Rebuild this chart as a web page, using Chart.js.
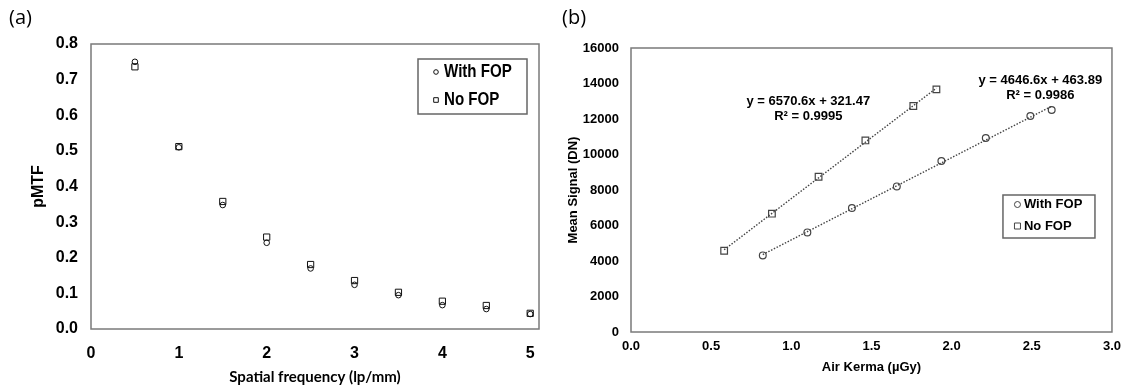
<!DOCTYPE html>
<html>
<head>
<meta charset="utf-8">
<script src="https://cdn.jsdelivr.net/npm/chart.js@4.4.1/dist/chart.umd.min.js"></script>
<style>
  body { margin: 0; background: #fff; width: 1128px; height: 391px; position: relative; overflow: hidden; }
  canvas { position: absolute; top: 0; }
  #cA { left: 0; }
  #cB { left: 560px; }
  .tag { position: absolute; top: 3px; font: 20px "Open Sans", sans-serif; line-height: 28px; color: #000; }
</style>
</head>
<body>
<canvas id="cA" width="560" height="391"></canvas>
<canvas id="cB" width="568" height="391"></canvas>
<div class="tag" style="left:9px">(a)</div>
<div class="tag" style="left:562px">(b)</div>
<script>
// (a) pMTF vs spatial frequency
const freq = [0.5, 1, 1.5, 2, 2.5, 3, 3.5, 4, 4.5, 5];
const freqTicks = [0, 1, 2, 3, 4, 5];
const mtfWithFop = [0.750, 0.510, 0.348, 0.242, 0.170, 0.124, 0.095, 0.067, 0.056, 0.042];
const mtfNoFop = [0.736, 0.512, 0.358, 0.258, 0.181, 0.136, 0.103, 0.078, 0.066, 0.044];

// (b) mean signal vs air kerma
const kermaWithFop = [0.822, 1.100, 1.378, 1.658, 1.936, 2.213, 2.491, 2.624];
const signalWithFop = [4316, 5611, 6986, 8203, 9634, 10930, 12169, 12507];
const kermaNoFop = [0.581, 0.879, 1.170, 1.462, 1.761, 1.905];
const signalNoFop = [4580, 6665, 8749, 10794, 12732, 13668];

const fitTextWith = ["y = 4646.6x + 463.89", "R\u00b2 = 0.9986"];
const fitTextNo = ["y = 6570.6x + 321.47", "R\u00b2 = 0.9995"];

Chart.defaults.font.family = "'Liberation Sans', Arial, sans-serif";
Chart.defaults.font.weight = "bold";
Chart.defaults.font.size = 13;
Chart.defaults.color = "#000";

const pts = (xs, ys) => xs.map((x, i) => ({ x, y: ys[i] }));

// least squares line over the measured range
function trend(xs, ys) {
  const n = xs.length;
  const mx = xs.reduce((a, b) => a + b) / n;
  const my = ys.reduce((a, b) => a + b) / n;
  let sxy = 0, sxx = 0;
  xs.forEach((x, i) => { sxy += (x - mx) * (ys[i] - my); sxx += (x - mx) ** 2; });
  const m = sxy / sxx, b = my - m * mx;
  const x0 = Math.min(...xs), x1 = Math.max(...xs);
  return [{ x: x0, y: m * x0 + b }, { x: x1, y: m * x1 + b }];
}

// plot frame
const frame = {
  id: "frame",
  beforeDatasetsDraw(chart) {
    const { ctx, chartArea: a } = chart;
    ctx.save();
    ctx.strokeStyle = "#7a7a7a";
    ctx.lineWidth = 1.5;
    ctx.strokeRect(a.left, a.top, a.right - a.left, a.bottom - a.top);
    ctx.restore();
  }
};

// boxed legend inside plot
const boxLegend = {
  id: "boxLegend",
  afterDraw(chart, args, o) {
    const { ctx, chartArea: a } = chart;
    const x = a.right - o.right - o.w, y = a.top + o.top;
    ctx.save();
    ctx.fillStyle = "#fff";
    ctx.fillRect(x, y, o.w, o.h);
    ctx.strokeStyle = "#666";
    ctx.lineWidth = 1.5;
    ctx.strokeRect(x, y, o.w, o.h);
    o.items.forEach((k, i) => {
      const ds = chart.data.datasets[k];
      const cy = y + o.rows[i];
      ctx.strokeStyle = ds.borderColor;
      ctx.lineWidth = 1;
      ctx.beginPath();
      if (ds.pointStyle === "rect") ctx.rect(x + o.mx - o.ms, cy - o.ms, 2 * o.ms, 2 * o.ms);
      else ctx.arc(x + o.mx, cy, o.ms, 0, Math.PI * 2);
      ctx.stroke();
      ctx.fillStyle = "#000";
      ctx.font = o.font;
      ctx.textBaseline = "middle";
      ctx.save();
      ctx.translate(x + o.tx, cy);
      ctx.scale(o.sx, 1);
      ctx.fillText(ds.label, 0, 0);
      ctx.restore();
    });
    ctx.restore();
  }
};

// trendline equations
const fitNotes = {
  id: "fitNotes",
  afterDatasetsDraw(chart, args, o) {
    const { ctx, scales } = chart;
    ctx.save();
    ctx.font = "bold 13px 'Liberation Sans', Arial, sans-serif";
    ctx.fillStyle = "#000";
    ctx.textAlign = "center";
    ctx.textBaseline = "middle";
    o.notes.forEach(n => {
      const px = scales.x.getPixelForValue(n.at[0]);
      const py = scales.y.getPixelForValue(n.at[1]);
      n.text.forEach((t, i) => ctx.fillText(t, px, py + i * 14.5));
    });
    ctx.restore();
  }
};

// CHART A
new Chart(document.getElementById("cA"), {
  type: "scatter",
  data: {
    datasets: [
      { label: "With FOP", data: pts(freq, mtfWithFop), pointStyle: "circle", pointRadius: 2.8,
        borderColor: "#111", backgroundColor: "transparent", borderWidth: 1 },
      { label: "No FOP", data: pts(freq, mtfNoFop), pointStyle: "rect", pointRadius: 4.4,
        borderColor: "#111", backgroundColor: "transparent", borderWidth: 1 }
    ]
  },
  options: {
    responsive: false,
    animation: false,
    events: [],
    layout: { padding: { top: 44, right: 21, left: 0, bottom: 0 } },
    scales: {
      x: {
        type: "linear", min: 0, max: 5.1,
        afterBuildTicks: s => { s.ticks = freqTicks.map(v => ({ value: v })); },
        afterFit: s => { s.height = 62; },
        grid: { display: false, drawTicks: false },
        border: { display: false },
        ticks: { padding: 15, font: { size: 16 } },
        title: { display: true, text: "Spatial frequency (lp/mm)", padding: { bottom: 5 },
                 font: { family: "Lato, 'Liberation Sans', sans-serif", size: 15, weight: "bold" } }
      },
      y: {
        min: 0, max: 0.8,
        afterFit: s => { s.width = 91; },
        grid: { display: false, drawTicks: false },
        border: { display: false },
        ticks: { stepSize: 0.1, padding: 13, font: { size: 16 }, callback: v => v.toFixed(1) },
        title: { display: true, text: "pMTF", padding: { top: 29 }, font: { size: 16 } }
      }
    },
    plugins: {
      legend: { display: false },
      tooltip: { enabled: false },
      boxLegend: { items: [0, 1], right: 12, top: 15, w: 109, h: 55, rows: [13, 41],
                   mx: 18, ms: 2.3, tx: 26, sx: 0.84, font: "bold 18px 'Liberation Sans', Arial, sans-serif" }
    }
  },
  plugins: [frame, boxLegend]
});

// CHART B
const dotted = { showLine: true, pointRadius: 0, borderColor: "#444", borderWidth: 1.4,
                 borderDash: [1.5, 1.6], backgroundColor: "transparent" };

new Chart(document.getElementById("cB"), {
  type: "scatter",
  data: {
    datasets: [
      { label: "With FOP", data: pts(kermaWithFop, signalWithFop), pointStyle: "circle", pointRadius: 3.4,
        borderColor: "#444", backgroundColor: "transparent", borderWidth: 1.2 },
      { label: "No FOP", data: pts(kermaNoFop, signalNoFop), pointStyle: "rect", pointRadius: 4.7,
        borderColor: "#444", backgroundColor: "transparent", borderWidth: 1.2 },
      { label: "fit with", data: trend(kermaWithFop, signalWithFop), ...dotted },
      { label: "fit no", data: trend(kermaNoFop, signalNoFop), ...dotted }
    ]
  },
  options: {
    responsive: false,
    animation: false,
    events: [],
    layout: { padding: { top: 48, right: 12, left: 0, bottom: 0 } },
    scales: {
      x: {
        type: "linear", min: 0, max: 3,
        afterFit: s => { s.height = 59; },
        grid: { display: false, drawTicks: false },
        border: { display: false },
        ticks: { stepSize: 0.5, padding: 7, callback: v => v.toFixed(1) },
        title: { display: true, text: "Air Kerma (\u00b5Gy)", padding: { bottom: 16 } }
      },
      y: {
        min: 0, max: 16000,
        afterFit: s => { s.width = 71; },
        grid: { display: false, drawTicks: false },
        border: { display: false },
        ticks: { stepSize: 2000, padding: 12, callback: v => String(v) },
        title: { display: true, text: "Mean Signal (DN)", padding: { top: 6 } }
      }
    },
    plugins: {
      legend: { display: false },
      tooltip: { enabled: false },
      boxLegend: { items: [0, 1], right: 17, top: 147, w: 92, h: 43, rows: [9.5, 31],
                   mx: 14.5, ms: 3, tx: 21, sx: 1, font: "bold 13px 'Liberation Sans', Arial, sans-serif" },
      fitNotes: { notes: [
        { at: [1.106, 12990], text: fitTextNo },
        { at: [2.553, 14160], text: fitTextWith }
      ] }
    }
  },
  plugins: [frame, boxLegend, fitNotes]
});
</script>
</body>
</html>
